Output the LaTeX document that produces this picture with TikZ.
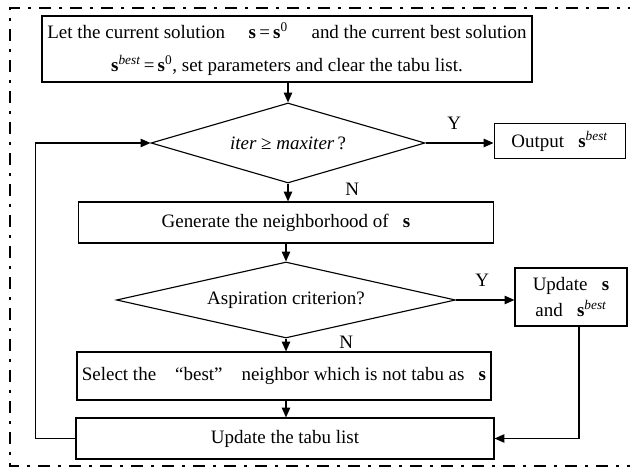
\documentclass[tikz,border=0pt]{standalone}
\usepackage{fontspec}
\setmainfont{Liberation Serif}
\usetikzlibrary{shapes.geometric, arrows.meta, positioning}

\begin{document}
\begin{tikzpicture}[box/.style={rectangle, draw, line width=0.8pt, align=center, font=\fontsize{13.5}{16}\selectfont, inner sep=2pt},
  decision/.style={diamond, draw, line width=0.8pt, inner sep=0pt, align=center, font=\fontsize{13.5}{16}\selectfont},
  flow/.style={line width=0.9pt, -{Triangle[length=7pt,width=6pt]}},
  lbl/.style={font=\fontsize{13.5}{16}\selectfont},
  frame/.style={line width=2pt, dash pattern=on 0.3cm off 0.2cm on 0.075cm off 0.2cm}]
  \useasboundingbox (0,0) rectangle (15.75,11.875);
  % outer frame
  \draw[frame] (16,11.675) -- (0.25,11.675) -- (0.25,0.225) -- (16,0.225);

  \node[box, minimum width=12.25cm, minimum height=1.65cm, font=\fontsize{13.5}{23.5}\selectfont] (init) at (7.175,10.65) {
    Let the current solution \quad\textbf{s}\,=\,\textbf{s}\textsuperscript{0} \quad and the current best solution\\
    \textbf{s}\textsuperscript{\itshape best}\,=\,\textbf{s}\textsuperscript{0}, set parameters and clear the tabu list.
  };
  \node[decision, aspect=3.4, minimum width=6.85cm, minimum height=2cm] (stop) at (7.2,8.3) {\textit{iter} ≥ \textit{maxiter}\,?};
  \node[box, minimum width=3.275cm, minimum height=0.875cm] (out) at (13.99,8.34) {Output \enspace\textbf{s}\textsuperscript{\itshape best}};
  \node[box, minimum width=10.375cm, minimum height=1.025cm] (gen) at (7.15,6.3125) {Generate the neighborhood of \enspace\textbf{s}};
  \node[decision, aspect=4.45, minimum width=8.475cm, minimum height=1.9cm] (asp) at (7.15,4.375) {Aspiration criterion?};
  \node[box, minimum width=2.8cm, minimum height=1.45cm, font=\fontsize{13.5}{19}\selectfont] (upd) at (14.275,4.45) {
    Update \enspace\textbf{s}\\
    and \enspace\textbf{s}\textsuperscript{\itshape best}
  };
  \node[box, minimum width=10.35cm, minimum height=1.2cm, inner sep=1pt] (sel) at (7.1,2.475) {Select the \hspace{0.75em}“best”\hspace{0.75em} neighbor which is not tabu as \enspace\textbf{s}};
  \node[box, minimum width=10.45cm, minimum height=1.025cm] (tabu) at (7.125,0.9125) {Update the tabu list};

  % connectors
  \draw[flow] (init.south -| stop.north) -- (stop.north);
  \draw[flow] (stop.east) -- (stop.east -| out.west) node[lbl, pos=0.42, above=6pt] {Y};
  \draw[flow] (stop.south) -- (stop.south |- gen.north) node[lbl, pos=0.3, right=1.3cm] {N};
  \draw[flow] (gen.south -| asp.north) -- (asp.north);
  \draw[flow] (asp.east) -- (asp.east -| upd.west) node[lbl, pos=0.45, above=6pt] {Y};
  \draw[flow] (asp.south) -- (asp.south |- sel.north) node[lbl, pos=0.3, right=1.2cm] {N};
  \draw[flow] (sel.south -| asp.south) -- (asp.south |- tabu.north);
  \draw[flow] ([xshift=0.2cm]upd.south) |- (tabu.east);
  \draw[flow] (tabu.west) -- ++(-1,0) |- (stop.west);
\end{tikzpicture}
\end{document}
